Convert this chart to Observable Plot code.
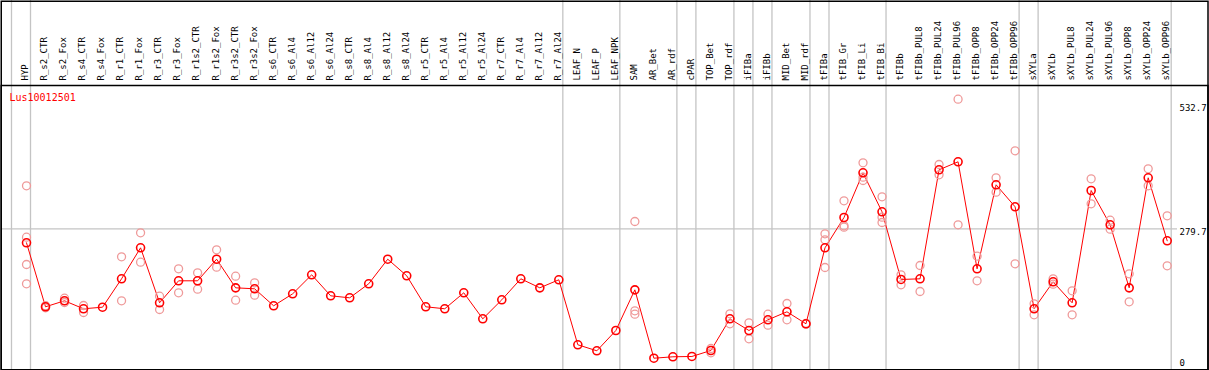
<!DOCTYPE html>
<html>
<head>
<meta charset="utf-8">
<script src="https://cdn.jsdelivr.net/npm/d3@7"></script>
<script src="https://cdn.jsdelivr.net/npm/@observablehq/plot@0.6"></script>
<style>
  html, body { margin: 0; padding: 0; background: #fff; }
  #chart svg { display: block; }
</style>
</head>
<body>
<div id="chart"></div>
<script>
const title = "Lus10012501";

const categories = [
  "HYP","R_s2_CTR","R_s2_Fox","R_s4_CTR","R_s4_Fox","R_r1_CTR","R_r1_Fox","R_r3_CTR","R_r3_Fox",
  "R_r1s2_CTR","R_r1s2_Fox","R_r3s2_CTR","R_r3s2_Fox","R_s6_CTR","R_s6_Al4","R_s6_Al12","R_s6_Al24",
  "R_s8_CTR","R_s8_Al4","R_s8_Al12","R_s8_Al24","R_r5_CTR","R_r5_Al4","R_r5_Al12","R_r5_Al24",
  "R_r7_CTR","R_r7_Al4","R_r7_Al12","R_r7_Al24","LEAF_N","LEAF_P","LEAF_NPK","SAM","AR_Bet","AR_rdf",
  "cPAR","TOP_Bet","TOP_rdf","iFIBa","iFIBb","MID_Bet","MID_rdf","tFIBa","tFIB_Gr","tFIB_Li","tFIB_Bi",
  "tFIBb","tFIBb_PUL8","tFIBb_PUL24","tFIBb_PUL96","tFIBb_OPP8","tFIBb_OPP24","tFIBb_OPP96",
  "sXYLa","sXYLb","sXYLb_PUL8","sXYLb_PUL24","sXYLb_PUL96","sXYLb_OPP8","sXYLb_OPP24","sXYLb_OPP96"
];

const means = [
  252.4,127.5,139.2,123.6,126.7,182.1,242.6,135.3,178.2,
  178.2,220.4,164.5,162.6,129.4,152.8,189.9,148.9,
  145.0,172.4,220.4,188.0,127.5,123.6,154.8,104.0,
  141.1,182.1,164.5,180.2,53.3,41.6,81.2,160.6,27.1,29.9,
  30.5,42.2,104.0,81.2,102.1,117.7,94.3,242.6,301.8,389.0,312.9,
  180.8,182.1,394.9,410.5,201.6,365.6,322.7,
  123.6,176.3,135.3,354.5,287.5,164.5,379.3,256.3
];

const replicates = [
  [363.7,263.3,210.0,172.4],[125.5,129.5],[144.3,135.9],[130.0,116.3],[],[225.0,139.2],[271.9,214.5],[148.2,122.2],[201.6,154.8],
  [193.8,161.8],[238.7,204.8],[187.2,140.3],[174.3,150.1],[],[],[],[],
  [],[],[],[],[],[],[],[],
  [],[],[],[],[],[],[],[294.0,119.6,113.0],[],[],
  [],[46.1,37.7],[113.8,94.3],[96.2,65.0],[113.0,91.5],[133.9,102.1],[95.0,93.5],[270.0,258.2,204.2],[334.4,285.6,282.8],[408.6,380.4,374.0],[342.2,302.4,292.0],
  [189.9,170.4],[208.1,157.3],[405.2,385.1],[532.7,287.5],[226.2,178.2],[379.3,351.2],[432.0,211.4],
  [133.3,111.8],[182.1,171.6],[158.7,111.8],[377.3,328.5],[296.5,278.9],[191.9,137.2],[396.8,363.7],[305.1,207.5]
];

// number of categories in each group (separators drawn after each group)
const groupSizes = [1, 28, 3, 3, 1, 2, 1, 1, 2, 1, 3, 7, 1, 7];

const tickValues = [0, 279.7, 532.7];
const gridValues = [279.7];

// derived tables
const meanData = categories.map((c, i) => ({i, cat: c, v: means[i]}));
const repData = replicates.flatMap((arr, i) => arr.map(v => ({i, v})));
const boundaries = [-1];
groupSizes.reduce((acc, n) => { acc += n; boundaries.push(acc - 1); return acc; }, 0);

const font = "DejaVu Sans Mono";
const red = "#ff0000";
const pink = "#ef9a9a";
const gray = "#c4c4c4";

const tickMark = (v, dy) => Plot.text([v], {
  y: d => d, text: d => String(d), frameAnchor: "right", dx: -30,
  textAnchor: "start", lineAnchor: "top", dy, fontSize: 9, fill: "black"
});

const chart = Plot.plot({
  width: 1209,
  height: 370,
  margin: 0,
  style: {background: "white", fontFamily: font},
  x: {type: "linear", domain: [0, categories.length - 1], range: [26, 1166.7], axis: null},
  y: {type: "linear", domain: [0, 532.7], range: [371.6, 98.7], axis: null},
  marks: [
    Plot.ruleY(gridValues, {stroke: gray, strokeWidth: 1.3, insetLeft: 1, insetRight: 32}),
    Plot.ruleX(boundaries, {x: d => d, dx: 4, stroke: gray, strokeWidth: 1.3}),
    Plot.frame({stroke: "black", strokeWidth: 1.5, insetLeft: 0.75, insetRight: 1.5, insetTop: 0.75, insetBottom: 0.75}),
    Plot.frame({stroke: "black", strokeWidth: 1.5, insetLeft: 0.75, insetRight: 1.5, insetTop: 85, insetBottom: 0.75}),
    Plot.text(categories, {
      x: (d, i) => i, text: d => d, frameAnchor: "top", dy: 80, dx: -1,
      rotate: -90, textAnchor: "start", lineAnchor: "middle", fontSize: 9, fill: "black"
    }),
    Plot.line(meanData, {x: "i", y: "v", stroke: red, strokeWidth: 1}),
    Plot.dot(repData, {x: "i", y: "v", r: 4, stroke: pink, strokeWidth: 1.3, fill: "none"}),
    Plot.dot(meanData, {x: "i", y: "v", r: 4, stroke: red, strokeWidth: 1.6, fill: "none"}),
    Plot.text([title], {
      text: d => d, frameAnchor: "top-left", dx: 9, dy: 93, textAnchor: "start",
      lineAnchor: "top", fontSize: 10, fill: red
    }),
    tickMark(tickValues[2], 5.5),
    tickMark(tickValues[1], -0.5),
    tickMark(tickValues[0], -12.3)
  ]
});

document.getElementById("chart").appendChild(chart);
</script>
</body>
</html>
